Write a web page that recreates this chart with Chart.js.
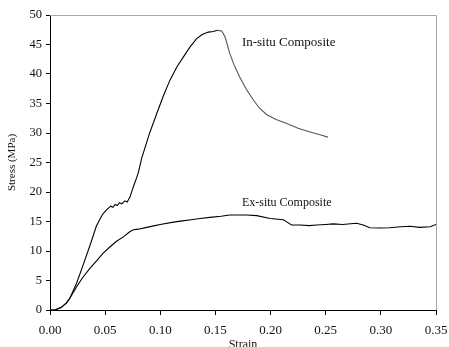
<!DOCTYPE html>
<html>
<head>
<meta charset="utf-8">
<script src="https://cdn.jsdelivr.net/npm/chart.js@4/dist/chart.umd.min.js"></script>
<style>
  html, body { margin: 0; padding: 0; background: #fff; }
  #wrap { width: 449px; height: 347px; position: relative; }
</style>
</head>
<body>
<div id="wrap"><canvas id="chart"></canvas></div>
<script>
// strain / stress readings for the two composites
const inSituStrain = [0, 0.005, 0.010, 0.015, 0.018, 0.024, 0.030, 0.036, 0.042, 0.045, 0.048, 0.052, 0.055, 0.057, 0.059, 0.061, 0.063, 0.065, 0.068, 0.070, 0.0726, 0.0756, 0.080, 0.0831, 0.090, 0.0968, 0.103, 0.1089, 0.115, 0.121, 0.127, 0.133, 0.138, 0.1436, 0.148, 0.152, 0.1557, 0.1587, 0.163, 0.167, 0.172, 0.178, 0.1844, 0.190, 0.1966, 0.205, 0.2147, 0.225, 0.235, 0.2449, 0.252];
const inSituStress = [0, 0.05, 0.4, 1.2, 2.0, 4.5, 7.6, 10.8, 14.2, 15.3, 16.3, 17.1, 17.6, 17.4, 17.9, 17.7, 18.2, 18.0, 18.5, 18.3, 19.2, 20.9, 23.2, 25.7, 29.8, 33.3, 36.4, 39.0, 41.2, 42.9, 44.6, 46.0, 46.7, 47.1, 47.2, 47.4, 47.3, 46.3, 43.5, 41.5, 39.5, 37.4, 35.6, 34.2, 33.1, 32.3, 31.6, 30.8, 30.2, 29.7, 29.3];

const exSituStrain = [0, 0.005, 0.010, 0.015, 0.018, 0.024, 0.030, 0.036, 0.042, 0.048, 0.055, 0.060, 0.0665, 0.0726, 0.0756, 0.080, 0.0877, 0.095, 0.100, 0.1119, 0.120, 0.128, 0.136, 0.145, 0.155, 0.163, 0.172, 0.178, 0.1875, 0.1996, 0.2116, 0.215, 0.219, 0.227, 0.235, 0.242, 0.250, 0.257, 0.265, 0.278, 0.284, 0.290, 0.300, 0.308, 0.318, 0.3266, 0.335, 0.3447, 0.350];
const exSituStress = [0, 0.05, 0.4, 1.2, 2.0, 3.9, 5.6, 7.0, 8.3, 9.6, 10.8, 11.6, 12.4, 13.3, 13.6, 13.7, 14.0, 14.3, 14.5, 14.9, 15.1, 15.3, 15.5, 15.7, 15.9, 16.1, 16.1, 16.1, 16.0, 15.5, 15.3, 14.9, 14.4, 14.4, 14.3, 14.4, 14.5, 14.6, 14.5, 14.7, 14.4, 13.95, 13.9, 13.95, 14.1, 14.2, 14.0, 14.1, 14.5];

const xTicks = [0, 0.05, 0.10, 0.15, 0.20, 0.25, 0.30, 0.35];
const yTicks = [0, 5, 10, 15, 20, 25, 30, 35, 40, 45, 50];

const curveLabels = ['In-situ Composite', 'Ex-situ Composite'];
const labelAt = [[0.174, 45.3], [0.174, 18.2]];

const toPoints = (xs, ys) => xs.map((x, i) => ({ x: x, y: ys[i] }));
const peakIdx = inSituStress.indexOf(Math.max(...inSituStress));
const serif = '"Liberation Serif", "Times New Roman", serif';

// grey frame on top/right plus the in-plot curve names
const framePlugin = {
  id: 'frame',
  afterDraw(chart) {
    const { ctx, chartArea: a, scales } = chart;
    ctx.save();
    ctx.strokeStyle = '#a6a6a6';
    ctx.lineWidth = 1;
    ctx.beginPath();
    ctx.moveTo(a.left, a.top + 0.5);
    ctx.lineTo(a.right + 0.5, a.top + 0.5);
    ctx.lineTo(a.right + 0.5, a.bottom);
    ctx.stroke();

    ctx.fillStyle = '#111';
    ctx.textBaseline = 'middle';
    ctx.textAlign = 'left';
    const sizes = [13, 12];
    curveLabels.forEach((t, i) => {
      ctx.font = sizes[i] + 'px ' + serif;
      ctx.fillText(t, scales.x.getPixelForValue(labelAt[i][0]), scales.y.getPixelForValue(labelAt[i][1]));
    });
    ctx.restore();
  }
};

new Chart(document.getElementById('chart'), {
  type: 'line',
  data: {
    datasets: [
      {
        label: curveLabels[0],
        data: toPoints(inSituStrain, inSituStress),
        borderColor: '#000',
        borderWidth: 1.1,
        pointRadius: 0,
        tension: 0,
        segment: { borderColor: c => c.p0DataIndex >= peakIdx ? '#555' : '#000' }
      },
      {
        label: curveLabels[1],
        data: toPoints(exSituStrain, exSituStress),
        borderColor: '#000',
        borderWidth: 1.1,
        pointRadius: 0,
        tension: 0
      }
    ]
  },
  options: {
    responsive: true,
    maintainAspectRatio: false,
    animation: false,
    layout: { padding: { left: 0, top: 15, right: 13, bottom: 0 } },
    plugins: { legend: { display: false }, tooltip: { enabled: false } },
    scales: {
      x: {
        type: 'linear',
        min: 0,
        max: 0.35,
        afterBuildTicks: s => { s.ticks = xTicks.map(v => ({ value: v })); },
        afterFit: s => { s.height = 37; s.paddingLeft = 0; s.paddingRight = 0; },
        border: { color: '#000', width: 1 },
        grid: { drawOnChartArea: false, drawTicks: true, tickLength: 5, color: '#000' },
        ticks: {
          color: '#111',
          padding: 8,
          maxRotation: 0,
          font: { family: serif, size: 13 },
          callback: v => v.toFixed(2)
        },
        title: {
          display: true,
          text: 'Strain',
          color: '#111',
          font: { family: serif, size: 12 },
          padding: { top: 0, bottom: -5 }
        }
      },
      y: {
        min: 0,
        max: 50,
        afterBuildTicks: s => { s.ticks = yTicks.map(v => ({ value: v })); },
        afterFit: s => { s.width = 50; s.paddingTop = 0; s.paddingBottom = 0; },
        border: { color: '#000', width: 1 },
        grid: { drawOnChartArea: false, drawTicks: true, tickLength: 4, color: '#000' },
        ticks: {
          color: '#111',
          padding: 4,
          font: { family: serif, size: 12.5 }
        },
        title: {
          display: true,
          text: 'Stress (MPa)',
          color: '#111',
          font: { family: serif, size: 11 },
          padding: { top: 6, bottom: 0 }
        }
      }
    }
  },
  plugins: [framePlugin]
});
</script>
</body>
</html>
